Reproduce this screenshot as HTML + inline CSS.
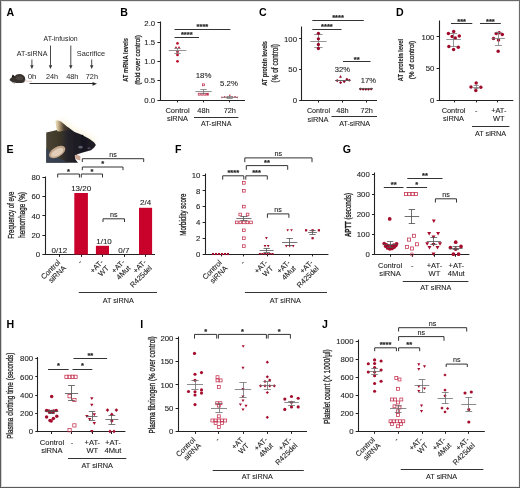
<!DOCTYPE html>
<html><head><meta charset="utf-8"><style>
html,body{margin:0;padding:0;background:#fff;}
body{width:520px;height:488px;overflow:hidden;}
svg{display:block;will-change:transform;font-family:"Liberation Sans",sans-serif;}
text{stroke:#1e1e1e;stroke-width:0.1px;}
</style></head><body>
<svg width="520" height="488" viewBox="0 0 520 488" fill="#1e1e1e">
<rect x="0" y="0" width="520" height="488" fill="#fff"/>
<g shape-rendering="crispEdges"><rect x="1" y="0" width="1" height="488" fill="#d4d4d4"/><rect x="0" y="1" width="520" height="1" fill="#e6e6e6"/><rect x="518" y="0" width="1" height="488" fill="#f2f2f2"/><rect x="0" y="486" width="520" height="1" fill="#ececec"/><rect x="0" y="0" width="1" height="488" fill="#5a5a5a"/><rect x="0" y="0" width="520" height="1" fill="#6a6a6a"/><rect x="519" y="0" width="1" height="488" fill="#6a6a6a"/><rect x="0" y="487" width="520" height="1" fill="#5a5a5a"/></g>
<text x="6.4" y="15.79" font-size="10.6" font-weight="bold" fill="#000" style="stroke:none">A</text>
<text x="60.6" y="41.26" font-size="7.2" text-anchor="middle" textLength="34" lengthAdjust="spacingAndGlyphs" style="stroke:none">AT-infusion</text>
<text x="32.1" y="55.56" font-size="7.2" text-anchor="middle" textLength="30.8" lengthAdjust="spacingAndGlyphs" style="stroke:none">AT-siRNA</text>
<text x="90.9" y="55.56" font-size="7.2" text-anchor="middle" textLength="28.3" lengthAdjust="spacingAndGlyphs" style="stroke:none">Sacrifice</text>
<line x1="31.9" y1="59.5" x2="31.9" y2="65.7" stroke="#333" stroke-width="0.9"/>
<path d="M30.2 65.2L33.6 65.2L31.9 69Z" fill="#333"/>
<line x1="50.5" y1="45.5" x2="50.5" y2="65.7" stroke="#333" stroke-width="0.9"/>
<path d="M48.8 65.2L52.2 65.2L50.5 69Z" fill="#333"/>
<line x1="70.8" y1="45.5" x2="70.8" y2="65.7" stroke="#333" stroke-width="0.9"/>
<path d="M69.1 65.2L72.5 65.2L70.8 69Z" fill="#333"/>
<line x1="91.7" y1="59.5" x2="91.7" y2="65.7" stroke="#333" stroke-width="0.9"/>
<path d="M90 65.2L93.4 65.2L91.7 69Z" fill="#333"/>
<text x="32.1" y="79.16" font-size="7.2" text-anchor="middle" textLength="8.7" lengthAdjust="spacingAndGlyphs" style="stroke:none">0h</text>
<text x="52" y="79.16" font-size="7.2" text-anchor="middle" textLength="12.2" lengthAdjust="spacingAndGlyphs" style="stroke:none">24h</text>
<text x="72.3" y="79.16" font-size="7.2" text-anchor="middle" textLength="12.3" lengthAdjust="spacingAndGlyphs" style="stroke:none">48h</text>
<text x="91.9" y="79.16" font-size="7.2" text-anchor="middle" textLength="12.2" lengthAdjust="spacingAndGlyphs" style="stroke:none">72h</text>
<line x1="29.6" y1="83.5" x2="93" y2="83.5" stroke="#2a2a2a" stroke-width="1"/>
<path d="M92.5 81.9L97 83.8L92.5 85.7Z" fill="#2a2a2a"/>
<g filter="url(#bls)"><path d="M9.4 80 Q10.5 78 12 77.2 L12.6 75 L14.4 76.2 Q16.5 74.2 19.5 74.1 Q23.5 74.3 25 77.5 Q26 80.5 24.2 82.2 Q21 83.4 17 83 Q13 82.6 11.2 81.4 Z" fill="#37312d"/><path d="M11.5 81.2 Q13 82.8 15.5 83.2 L14 83.6 Q12 83 11.5 81.2 Z" fill="#9a8a80"/><path d="M24.5 80.8 Q28 81.5 32 81.2" stroke="#cfb2a8" stroke-width="0.7" fill="none"/><ellipse cx="19.5" cy="78" rx="3.5" ry="2" fill="#5a524c" opacity="0.6"/><path d="M11.6 77.4 L12.8 74.4 L14.8 76.6 Z" fill="#1c1816"/></g>
<defs><filter id="bls" x="-20%" y="-20%" width="140%" height="140%"><feGaussianBlur stdDeviation="0.35"/></filter></defs>
<text x="120.2" y="15.79" font-size="10.6" font-weight="bold" fill="#000" style="stroke:none">B</text>
<line x1="160.5" y1="21.5" x2="160.5" y2="100.5" stroke="#222222" stroke-width="1.1"/>
<line x1="157.4" y1="22.5" x2="160" y2="22.5" stroke="#222222" stroke-width="1"/>
<text x="155.2" y="25.57" font-size="7.8" text-anchor="end">2.0</text>
<line x1="157.4" y1="42.5" x2="160" y2="42.5" stroke="#222222" stroke-width="1"/>
<text x="155.2" y="44.87" font-size="7.8" text-anchor="end">1.5</text>
<line x1="157.4" y1="61.5" x2="160" y2="61.5" stroke="#222222" stroke-width="1"/>
<text x="155.2" y="64.17" font-size="7.8" text-anchor="end">1.0</text>
<line x1="157.4" y1="80.5" x2="160" y2="80.5" stroke="#222222" stroke-width="1"/>
<text x="155.2" y="83.47" font-size="7.8" text-anchor="end">0.5</text>
<line x1="157.4" y1="100.5" x2="160" y2="100.5" stroke="#222222" stroke-width="1"/>
<text x="155.2" y="102.77" font-size="7.8" text-anchor="end">0.0</text>
<line x1="159.5" y1="100.5" x2="245" y2="100.5" stroke="#222222" stroke-width="1.1"/>
<line x1="177.5" y1="100" x2="177.5" y2="102.4" stroke="#222222" stroke-width="1"/>
<line x1="203.5" y1="100" x2="203.5" y2="102.4" stroke="#222222" stroke-width="1"/>
<line x1="229.5" y1="100" x2="229.5" y2="102.4" stroke="#222222" stroke-width="1"/>
<text x="127.9" y="59.85" font-size="7.8" text-anchor="middle" textLength="43.9" lengthAdjust="spacingAndGlyphs" transform="rotate(-90 127.9 59.85)" style="stroke-width:0.12px" font-weight="bold">AT mRNA levels</text>
<text x="140.4" y="60" font-size="7.8" text-anchor="middle" textLength="49.6" lengthAdjust="spacingAndGlyphs" transform="rotate(-90 140.4 60)" style="stroke-width:0.28px">(fold over control)</text>
<line x1="174.5" y1="29.5" x2="230.4" y2="29.5" stroke="#333333" stroke-width="1"/>
<text x="202.45" y="28.93" font-size="7.5" text-anchor="middle" font-weight="bold" style="stroke:#222;stroke-width:0.2px">****</text>
<line x1="174.5" y1="37.5" x2="199" y2="37.5" stroke="#333333" stroke-width="1"/>
<text x="186.75" y="37.32" font-size="7.5" text-anchor="middle" font-weight="bold" style="stroke:#222;stroke-width:0.2px">****</text>
<circle cx="177.5" cy="43.4" r="1.32" fill="#b8102e"/>
<path d="M174.74 48.31L177.26 48.31L176 46.1Z" fill="#b8102e"/>
<path d="M177.74 48.31L180.26 48.31L179 46.1Z" fill="#b8102e"/>
<circle cx="177.5" cy="51.8" r="1.4" fill="#b8102e"/>
<circle cx="177.5" cy="54.9" r="1.4" fill="#b8102e"/>
<circle cx="177.5" cy="61.3" r="1.4" fill="#b8102e"/>
<line x1="168.7" y1="50.5" x2="186.3" y2="50.5" stroke="#7a7a7a" stroke-width="0.8"/>
<line x1="177.5" y1="48.5" x2="177.5" y2="53.1" stroke="#7a7a7a" stroke-width="0.8"/>
<line x1="174.3" y1="48.5" x2="180.7" y2="48.5" stroke="#7a7a7a" stroke-width="0.8"/>
<line x1="174.3" y1="53.5" x2="180.7" y2="53.5" stroke="#7a7a7a" stroke-width="0.8"/>
<rect x="202.57" y="83.87" width="1.86" height="1.86" fill="#fff" fill-opacity="0" stroke="#c4304e" stroke-width="0.75"/>
<rect x="198.24" y="93.24" width="1.92" height="1.92" fill="#fff" fill-opacity="0" stroke="#c4304e" stroke-width="0.75"/>
<rect x="201.04" y="93.24" width="1.92" height="1.92" fill="#fff" fill-opacity="0" stroke="#c4304e" stroke-width="0.75"/>
<rect x="203.84" y="93.24" width="1.92" height="1.92" fill="#fff" fill-opacity="0" stroke="#c4304e" stroke-width="0.75"/>
<rect x="206.64" y="93.24" width="1.92" height="1.92" fill="#fff" fill-opacity="0" stroke="#c4304e" stroke-width="0.75"/>
<line x1="195.3" y1="91.5" x2="211.7" y2="91.5" stroke="#7a7a7a" stroke-width="0.8"/>
<line x1="203.5" y1="89.2" x2="203.5" y2="93" stroke="#7a7a7a" stroke-width="0.8"/>
<line x1="200.3" y1="89.5" x2="206.7" y2="89.5" stroke="#7a7a7a" stroke-width="0.8"/>
<line x1="200.3" y1="93.5" x2="206.7" y2="93.5" stroke="#7a7a7a" stroke-width="0.8"/>
<text x="203.6" y="78.27" font-size="7.8" text-anchor="middle">18%</text>
<path d="M221.01 96.81L222.99 96.81L222 98.54Z" fill="#b8102e"/>
<path d="M223.61 96.21L225.59 96.21L224.6 97.94Z" fill="#b8102e"/>
<path d="M226.21 96.81L228.19 96.81L227.2 98.54Z" fill="#b8102e"/>
<path d="M228.81 94.81L230.79 94.81L229.8 96.54Z" fill="#b8102e"/>
<path d="M231.41 96.61L233.39 96.61L232.4 98.34Z" fill="#b8102e"/>
<path d="M234.01 96.21L235.99 96.21L235 97.94Z" fill="#b8102e"/>
<path d="M236.21 96.81L238.19 96.81L237.2 98.54Z" fill="#b8102e"/>
<line x1="221.6" y1="97.5" x2="237.6" y2="97.5" stroke="#7a7a7a" stroke-width="0.8"/>
<line x1="229.5" y1="96.2" x2="229.5" y2="98.2" stroke="#7a7a7a" stroke-width="0.8"/>
<line x1="226.6" y1="96.5" x2="232.6" y2="96.5" stroke="#7a7a7a" stroke-width="0.8"/>
<line x1="226.6" y1="98.5" x2="232.6" y2="98.5" stroke="#7a7a7a" stroke-width="0.8"/>
<text x="229" y="86.37" font-size="7.8" text-anchor="middle">5.2%</text>
<text x="177.5" y="112.93" font-size="7.4" text-anchor="middle" textLength="24.2" lengthAdjust="spacingAndGlyphs">Control</text>
<text x="177.5" y="121.23" font-size="7.4" text-anchor="middle">siRNA</text>
<text x="203.5" y="112.93" font-size="7.4" text-anchor="middle">48h</text>
<text x="229.8" y="112.93" font-size="7.4" text-anchor="middle">72h</text>
<line x1="194" y1="117.5" x2="238.4" y2="117.5" stroke="#333333" stroke-width="1"/>
<text x="216.2" y="126.46" font-size="7.2" text-anchor="middle" textLength="30.5" lengthAdjust="spacingAndGlyphs">AT-siRNA</text>
<text x="259" y="15.79" font-size="10.6" font-weight="bold" fill="#000" style="stroke:none">C</text>
<line x1="301.5" y1="26.5" x2="301.5" y2="100.7" stroke="#222222" stroke-width="1.1"/>
<line x1="299.2" y1="38.5" x2="301.8" y2="38.5" stroke="#222222" stroke-width="1"/>
<text x="297" y="41.67" font-size="7.8" text-anchor="end">100</text>
<line x1="299.2" y1="69.5" x2="301.8" y2="69.5" stroke="#222222" stroke-width="1"/>
<text x="297" y="72.32" font-size="7.8" text-anchor="end">50</text>
<line x1="299.2" y1="100.5" x2="301.8" y2="100.5" stroke="#222222" stroke-width="1"/>
<text x="297" y="102.97" font-size="7.8" text-anchor="end">0</text>
<line x1="301.3" y1="100.5" x2="377" y2="100.5" stroke="#222222" stroke-width="1.1"/>
<line x1="318.5" y1="100.2" x2="318.5" y2="102.6" stroke="#222222" stroke-width="1"/>
<line x1="342.5" y1="100.2" x2="342.5" y2="102.6" stroke="#222222" stroke-width="1"/>
<line x1="366.5" y1="100.2" x2="366.5" y2="102.6" stroke="#222222" stroke-width="1"/>
<text x="266.6" y="63.4" font-size="7.8" text-anchor="middle" textLength="44.8" lengthAdjust="spacingAndGlyphs" transform="rotate(-90 266.6 63.4)" style="stroke-width:0.12px" font-weight="bold">AT protein levels</text>
<text x="277.5" y="63.25" font-size="8.2" text-anchor="middle" textLength="38.5" lengthAdjust="spacingAndGlyphs" transform="rotate(-90 277.5 63.25)" style="stroke-width:0.28px">(% of control)</text>
<line x1="312.3" y1="20.5" x2="363.8" y2="20.5" stroke="#333333" stroke-width="1"/>
<text x="338.05" y="20.23" font-size="7.5" text-anchor="middle" font-weight="bold" style="stroke:#222;stroke-width:0.2px">****</text>
<line x1="312.3" y1="29.5" x2="341.5" y2="29.5" stroke="#333333" stroke-width="1"/>
<text x="326.9" y="28.73" font-size="7.5" text-anchor="middle" font-weight="bold" style="stroke:#222;stroke-width:0.2px">****</text>
<line x1="343" y1="61.5" x2="370.5" y2="61.5" stroke="#333333" stroke-width="1"/>
<text x="356.75" y="61.52" font-size="7.5" text-anchor="middle" font-weight="bold" style="stroke:#222;stroke-width:0.2px">**</text>
<line x1="310.2" y1="41.5" x2="326.6" y2="41.5" stroke="#7a7a7a" stroke-width="0.8"/>
<line x1="318.5" y1="34.5" x2="318.5" y2="47.5" stroke="#7a7a7a" stroke-width="0.8"/>
<line x1="314.2" y1="34.5" x2="322.6" y2="34.5" stroke="#7a7a7a" stroke-width="0.8"/>
<line x1="314.2" y1="47.5" x2="322.6" y2="47.5" stroke="#7a7a7a" stroke-width="0.8"/>
<circle cx="318.4" cy="33.3" r="1.65" fill="#960c2c"/>
<circle cx="318.4" cy="38.8" r="1.65" fill="#960c2c"/>
<circle cx="318.4" cy="44.5" r="1.65" fill="#960c2c"/>
<circle cx="318.4" cy="48.5" r="1.65" fill="#960c2c"/>
<path d="M339.02 77.68L341.98 77.68L340.5 75.1Z" fill="#940a2a"/>
<path d="M337.2 79.04L338.76 80.6L337.2 82.16L335.64 80.6Z" fill="#940a2a"/>
<path d="M346.9 77.64L348.46 79.2L346.9 80.76L345.34 79.2Z" fill="#940a2a"/>
<path d="M349.3 78.74L350.86 80.3L349.3 81.86L347.74 80.3Z" fill="#940a2a"/>
<path d="M340.6 81.04L342.16 82.6L340.6 84.16L339.04 82.6Z" fill="#940a2a"/>
<path d="M344.2 80.04L345.76 81.6L344.2 83.16L342.64 81.6Z" fill="#940a2a"/>
<line x1="335" y1="80.5" x2="350" y2="80.5" stroke="#555" stroke-width="0.9"/>
<text x="342.3" y="71.5" font-size="7.6" text-anchor="middle">32%</text>
<path d="M360.4 87.42L361.88 88.9L360.4 90.38L358.92 88.9Z" fill="#7a0a22"/>
<path d="M363.1 87.72L364.58 89.2L363.1 90.68L361.62 89.2Z" fill="#7a0a22"/>
<path d="M365.8 87.72L367.28 89.2L365.8 90.68L364.32 89.2Z" fill="#7a0a22"/>
<path d="M368.5 87.72L369.98 89.2L368.5 90.68L367.02 89.2Z" fill="#7a0a22"/>
<path d="M371.2 87.42L372.68 88.9L371.2 90.38L369.72 88.9Z" fill="#7a0a22"/>
<line x1="359" y1="88.5" x2="373" y2="88.5" stroke="#555" stroke-width="0.8"/>
<text x="368.3" y="82.5" font-size="7.6" text-anchor="middle">17%</text>
<text x="318.5" y="112.63" font-size="7.4" text-anchor="middle" textLength="23.1" lengthAdjust="spacingAndGlyphs">Control</text>
<text x="318.1" y="121.83" font-size="7.4" text-anchor="middle">siRNA</text>
<text x="342.5" y="112.63" font-size="7.4" text-anchor="middle">48h</text>
<text x="366.7" y="112.63" font-size="7.4" text-anchor="middle">72h</text>
<line x1="331.5" y1="116.5" x2="377" y2="116.5" stroke="#333333" stroke-width="1"/>
<text x="354.6" y="126.36" font-size="7.2" text-anchor="middle" textLength="30.8" lengthAdjust="spacingAndGlyphs">AT-siRNA</text>
<text x="396" y="15.79" font-size="10.6" font-weight="bold" fill="#000" style="stroke:none">D</text>
<line x1="439.5" y1="20.5" x2="439.5" y2="100.5" stroke="#222222" stroke-width="1.1"/>
<line x1="436.6" y1="36.5" x2="439.2" y2="36.5" stroke="#222222" stroke-width="1"/>
<text x="434.4" y="39.57" font-size="7.8" text-anchor="end">100</text>
<line x1="436.6" y1="68.5" x2="439.2" y2="68.5" stroke="#222222" stroke-width="1"/>
<text x="434.4" y="71.17" font-size="7.8" text-anchor="end">50</text>
<line x1="436.6" y1="100.5" x2="439.2" y2="100.5" stroke="#222222" stroke-width="1"/>
<text x="434.4" y="102.77" font-size="7.8" text-anchor="end">0</text>
<line x1="438.7" y1="100.5" x2="513.3" y2="100.5" stroke="#222222" stroke-width="1.1"/>
<line x1="454.5" y1="100" x2="454.5" y2="102.4" stroke="#222222" stroke-width="1"/>
<line x1="476.5" y1="100" x2="476.5" y2="102.4" stroke="#222222" stroke-width="1"/>
<line x1="497.5" y1="100" x2="497.5" y2="102.4" stroke="#222222" stroke-width="1"/>
<text x="402.6" y="60.15" font-size="7.6" text-anchor="middle" textLength="42.3" lengthAdjust="spacingAndGlyphs" transform="rotate(-90 402.6 60.15)" style="stroke-width:0.12px" font-weight="bold">AT protein level</text>
<text x="414.4" y="60.05" font-size="7.2" text-anchor="middle" textLength="38.5" lengthAdjust="spacingAndGlyphs" transform="rotate(-90 414.4 60.05)" style="stroke-width:0.28px">(% of control)</text>
<line x1="451" y1="23.5" x2="472.3" y2="23.5" stroke="#333333" stroke-width="1"/>
<text x="461.65" y="23.53" font-size="7.5" text-anchor="middle" font-weight="bold" style="stroke:#222;stroke-width:0.2px">***</text>
<line x1="480" y1="23.5" x2="500.8" y2="23.5" stroke="#333333" stroke-width="1"/>
<text x="490.4" y="23.53" font-size="7.5" text-anchor="middle" font-weight="bold" style="stroke:#222;stroke-width:0.2px">***</text>
<circle cx="448.4" cy="33.4" r="1.73" fill="#a00a2a"/>
<circle cx="453.7" cy="31.4" r="1.73" fill="#a00a2a"/>
<circle cx="452.1" cy="36.4" r="1.73" fill="#a00a2a"/>
<circle cx="455.3" cy="38.1" r="1.73" fill="#a00a2a"/>
<circle cx="459.3" cy="36.1" r="1.73" fill="#a00a2a"/>
<circle cx="448.9" cy="46.4" r="1.73" fill="#a00a2a"/>
<circle cx="458.3" cy="47.2" r="1.73" fill="#a00a2a"/>
<circle cx="453.6" cy="49.6" r="1.73" fill="#a00a2a"/>
<line x1="446.3" y1="39.5" x2="460.9" y2="39.5" stroke="#7a7a7a" stroke-width="0.8"/>
<line x1="453.5" y1="33" x2="453.5" y2="46.8" stroke="#7a7a7a" stroke-width="0.8"/>
<line x1="450.1" y1="33.5" x2="457.1" y2="33.5" stroke="#7a7a7a" stroke-width="0.8"/>
<line x1="450.1" y1="46.5" x2="457.1" y2="46.5" stroke="#7a7a7a" stroke-width="0.8"/>
<circle cx="496.2" cy="33.4" r="1.73" fill="#a00a2a"/>
<circle cx="499.2" cy="32.8" r="1.73" fill="#a00a2a"/>
<circle cx="502.3" cy="34.6" r="1.73" fill="#a00a2a"/>
<circle cx="493.5" cy="38.5" r="1.73" fill="#a00a2a"/>
<circle cx="498.5" cy="40" r="1.73" fill="#a00a2a"/>
<circle cx="498.2" cy="51.2" r="1.73" fill="#a00a2a"/>
<line x1="491.9" y1="38.5" x2="504.9" y2="38.5" stroke="#7a7a7a" stroke-width="0.8"/>
<line x1="498.5" y1="32" x2="498.5" y2="45.4" stroke="#7a7a7a" stroke-width="0.8"/>
<line x1="494.9" y1="32.5" x2="501.9" y2="32.5" stroke="#7a7a7a" stroke-width="0.8"/>
<line x1="494.9" y1="45.5" x2="501.9" y2="45.5" stroke="#7a7a7a" stroke-width="0.8"/>
<circle cx="471" cy="87" r="1.73" fill="#a00a2a"/>
<circle cx="476.2" cy="83" r="1.73" fill="#a00a2a"/>
<circle cx="480.8" cy="87.3" r="1.73" fill="#a00a2a"/>
<circle cx="475.8" cy="90.4" r="1.73" fill="#a00a2a"/>
<line x1="472.2" y1="87.5" x2="480.2" y2="87.5" stroke="#7a7a7a" stroke-width="0.8"/>
<line x1="476.5" y1="85.5" x2="476.5" y2="88.8" stroke="#7a7a7a" stroke-width="0.8"/>
<line x1="473.7" y1="85.5" x2="478.7" y2="85.5" stroke="#7a7a7a" stroke-width="0.8"/>
<line x1="473.7" y1="88.5" x2="478.7" y2="88.5" stroke="#7a7a7a" stroke-width="0.8"/>
<text x="453.6" y="113.03" font-size="7.4" text-anchor="middle">Control</text>
<text x="453.6" y="121.33" font-size="7.4" text-anchor="middle">siRNA</text>
<text x="476.2" y="113.03" font-size="7.4" text-anchor="middle">-</text>
<text x="498.8" y="113.03" font-size="7.4" text-anchor="middle">+AT-</text>
<text x="498.8" y="121.33" font-size="7.4" text-anchor="middle">WT</text>
<line x1="472" y1="126.5" x2="509.4" y2="126.5" stroke="#333333" stroke-width="1"/>
<text x="490.5" y="135.63" font-size="7.4" text-anchor="middle" textLength="31.1" lengthAdjust="spacingAndGlyphs">AT siRNA</text>
<text x="6.4" y="153.29" font-size="10.6" font-weight="bold" fill="#000" style="stroke:none">E</text>
<defs>
<linearGradient id="mb" x1="46" y1="0" x2="96" y2="0" gradientUnits="userSpaceOnUse">
<stop offset="0" stop-color="#4a4434"/><stop offset="0.25" stop-color="#3e3828"/><stop offset="0.45" stop-color="#25232a"/><stop offset="0.75" stop-color="#17171f"/><stop offset="1" stop-color="#231f27"/>
</linearGradient>
<linearGradient id="ear" x1="55" y1="0" x2="70" y2="0" gradientUnits="userSpaceOnUse">
<stop offset="0" stop-color="#f0e4c6"/><stop offset="0.18" stop-color="#d6c29c"/><stop offset="0.38" stop-color="#968060"/><stop offset="0.6" stop-color="#4a3e32"/><stop offset="1" stop-color="#2a2420"/>
</linearGradient>
<filter id="bl" x="-10%" y="-10%" width="120%" height="120%"><feGaussianBlur stdDeviation="0.6"/></filter>
<filter id="bl2" x="-50%" y="-50%" width="200%" height="200%"><feGaussianBlur stdDeviation="2.5"/></filter>
</defs>
<path d="M60 121 L66 124.5 L71 129.3 L75 131.5 L81.5 134 L86 136.2 L90 138.8 L95 142.5" stroke="#f6ecc8" stroke-width="4" fill="none" filter="url(#bl2)" opacity="0.75"/>
<g filter="url(#bl)">
<path d="M46.2 132.4 L52 131.2 L56 130.2 L62 128.5 L68 127.3 L74.6 131.9 L81.1 134.5 L85 136.5 L89.6 139.1 L94.2 142.4 L95.9 145 L94.2 147.6 L91 150.2 L86.4 151.5 L81.1 152.9 L77.5 154.2 L74.8 156 L75.5 159.5 L78 162.8 L46.2 162.8 Z" fill="url(#mb)"/>
<path d="M55.4 121 L57.6 120.3 L61 121.6 L65.5 125.2 L70.4 129.6 L66 130.4 L60 131.4 L57.2 131.2 L56.2 127 Z" fill="url(#ear)"/>
<path d="M46.2 148 Q52 155 62 159.5 L68 162.8 L46.2 162.8 Z" fill="#34425a" opacity="0.8"/>
<ellipse cx="57.2" cy="152.0" rx="9.0" ry="4.9" transform="rotate(-30 57.2 152.0)" fill="#bfa48c"/>
<ellipse cx="57.2" cy="152.4" rx="6.8" ry="3.2" transform="rotate(-30 57.2 152.4)" fill="#e2cdb8"/>
<ellipse cx="80.5" cy="147.2" rx="2.2" ry="1.4" fill="#5c5c6c"/>
<ellipse cx="89" cy="148.3" rx="1.6" ry="1.0" fill="#4c4a58"/>
<circle cx="82.4" cy="135.8" r="1" fill="#0c0c10"/>
<path d="M74.8 155 Q78 154.2 80.5 156.5 L80.2 160.2 Q77.5 160.5 75.5 158.8 Z" fill="#caa696"/>
</g>
<line x1="45.5" y1="176.5" x2="45.5" y2="255" stroke="#222222" stroke-width="1.1"/>
<line x1="42.4" y1="177.5" x2="45" y2="177.5" stroke="#222222" stroke-width="1"/>
<text x="40.2" y="179.87" font-size="7.8" text-anchor="end">80</text>
<line x1="42.4" y1="196.5" x2="45" y2="196.5" stroke="#222222" stroke-width="1"/>
<text x="40.2" y="199.22" font-size="7.8" text-anchor="end">60</text>
<line x1="42.4" y1="215.5" x2="45" y2="215.5" stroke="#222222" stroke-width="1"/>
<text x="40.2" y="218.57" font-size="7.8" text-anchor="end">40</text>
<line x1="42.4" y1="235.5" x2="45" y2="235.5" stroke="#222222" stroke-width="1"/>
<text x="40.2" y="237.92" font-size="7.8" text-anchor="end">20</text>
<line x1="42.4" y1="254.5" x2="45" y2="254.5" stroke="#222222" stroke-width="1"/>
<text x="40.2" y="257.27" font-size="7.8" text-anchor="end">0</text>
<line x1="44.5" y1="254.5" x2="155" y2="254.5" stroke="#222222" stroke-width="1.1"/>
<line x1="59.5" y1="254.5" x2="59.5" y2="256.9" stroke="#222222" stroke-width="1"/>
<line x1="81.5" y1="254.5" x2="81.5" y2="256.9" stroke="#222222" stroke-width="1"/>
<line x1="102.5" y1="254.5" x2="102.5" y2="256.9" stroke="#222222" stroke-width="1"/>
<line x1="124.5" y1="254.5" x2="124.5" y2="256.9" stroke="#222222" stroke-width="1"/>
<line x1="145.5" y1="254.5" x2="145.5" y2="256.9" stroke="#222222" stroke-width="1"/>
<text x="13.7" y="215.15" font-size="8.4" text-anchor="middle" textLength="47.1" lengthAdjust="spacingAndGlyphs" transform="rotate(-90 13.7 215.15)" style="stroke-width:0.28px">Frequency of eye</text>
<text x="24.8" y="214.95" font-size="8.4" text-anchor="middle" textLength="45.7" lengthAdjust="spacingAndGlyphs" transform="rotate(-90 24.8 214.95)" style="stroke-width:0.28px">hemorrhage (%)</text>
<rect x="74.3" y="193.0" width="13.6" height="61.5" fill="#c9022b"/>
<rect x="95.9" y="245.8" width="13.1" height="8.7" fill="#c9022b"/>
<rect x="139.0" y="207.8" width="13.1" height="46.7" fill="#c9022b"/>
<text x="59.4" y="252.84" font-size="8" text-anchor="middle">0/12</text>
<text x="81.2" y="191.34" font-size="8" text-anchor="middle">13/20</text>
<text x="104" y="244.34" font-size="8" text-anchor="middle">1/10</text>
<text x="123.8" y="252.84" font-size="8" text-anchor="middle">0/7</text>
<text x="145.6" y="205.24" font-size="8" text-anchor="middle">2/4</text>
<path d="M57.7 177.5V174H79.4V177.5" stroke="#333333" stroke-width="1" fill="none"/>
<text x="68.55" y="173.53" font-size="7.5" text-anchor="middle" font-weight="bold" style="stroke:#222;stroke-width:0.2px">*</text>
<path d="M81.3 177.5V174H102.5V177.5" stroke="#333333" stroke-width="1" fill="none"/>
<text x="91.9" y="173.53" font-size="7.5" text-anchor="middle" font-weight="bold" style="stroke:#222;stroke-width:0.2px">*</text>
<path d="M82.3 170.2V167H123V170.2" stroke="#333333" stroke-width="1" fill="none"/>
<text x="102.65" y="166.23" font-size="7.5" text-anchor="middle" font-weight="bold" style="stroke:#222;stroke-width:0.2px">*</text>
<path d="M82.3 162V158.7H143.7V162" stroke="#333333" stroke-width="1" fill="none"/>
<text x="113" y="156.76" font-size="7.2" text-anchor="middle">ns</text>
<path d="M103 222V218.8H124.5V222" stroke="#333333" stroke-width="1" fill="none"/>
<text x="113.75" y="217.06" font-size="7.2" text-anchor="middle">ns</text>
<g transform="translate(58.9 261) rotate(-45)">
<text x="0" y="2.63" font-size="7.4" text-anchor="end">Control</text>
<text x="0" y="10.63" font-size="7.4" text-anchor="end">siRNA</text>
</g>
<g transform="translate(80.4 261) rotate(-45)">
<text x="0" y="2.63" font-size="7.4" text-anchor="end">-</text>
</g>
<g transform="translate(101.9 261) rotate(-45)">
<text x="0" y="2.63" font-size="7.4" text-anchor="end">+AT-</text>
<text x="0" y="10.63" font-size="7.4" text-anchor="end">WT</text>
</g>
<g transform="translate(123.4 261) rotate(-45)">
<text x="0" y="2.63" font-size="7.4" text-anchor="end">+AT-</text>
<text x="0" y="10.63" font-size="7.4" text-anchor="end">4Mut</text>
</g>
<g transform="translate(144.9 261) rotate(-45)">
<text x="0" y="2.63" font-size="7.4" text-anchor="end">+AT-</text>
<text x="0" y="10.63" font-size="7.4" text-anchor="end">R425del</text>
</g>
<line x1="78.8" y1="292.5" x2="157" y2="292.5" stroke="#333333" stroke-width="1"/>
<text x="118.2" y="302.83" font-size="7.4" text-anchor="middle" textLength="31.1" lengthAdjust="spacingAndGlyphs">AT siRNA</text>
<text x="175" y="153.29" font-size="10.6" font-weight="bold" fill="#000" style="stroke:none">F</text>
<line x1="205.5" y1="173.5" x2="205.5" y2="254.5" stroke="#222222" stroke-width="1.1"/>
<line x1="202.6" y1="175.5" x2="205.2" y2="175.5" stroke="#222222" stroke-width="1"/>
<text x="200.4" y="177.77" font-size="7.8" text-anchor="end">10</text>
<line x1="202.6" y1="190.5" x2="205.2" y2="190.5" stroke="#222222" stroke-width="1"/>
<text x="200.4" y="193.57" font-size="7.8" text-anchor="end">8</text>
<line x1="202.6" y1="206.5" x2="205.2" y2="206.5" stroke="#222222" stroke-width="1"/>
<text x="200.4" y="209.37" font-size="7.8" text-anchor="end">6</text>
<line x1="202.6" y1="222.5" x2="205.2" y2="222.5" stroke="#222222" stroke-width="1"/>
<text x="200.4" y="225.17" font-size="7.8" text-anchor="end">4</text>
<line x1="202.6" y1="238.5" x2="205.2" y2="238.5" stroke="#222222" stroke-width="1"/>
<text x="200.4" y="240.97" font-size="7.8" text-anchor="end">2</text>
<line x1="202.6" y1="254.5" x2="205.2" y2="254.5" stroke="#222222" stroke-width="1"/>
<text x="200.4" y="256.77" font-size="7.8" text-anchor="end">0</text>
<line x1="204.7" y1="254.5" x2="328.4" y2="254.5" stroke="#222222" stroke-width="1.1"/>
<line x1="221.5" y1="254" x2="221.5" y2="256.4" stroke="#222222" stroke-width="1"/>
<line x1="243.5" y1="254" x2="243.5" y2="256.4" stroke="#222222" stroke-width="1"/>
<line x1="267.5" y1="254" x2="267.5" y2="256.4" stroke="#222222" stroke-width="1"/>
<line x1="289.5" y1="254" x2="289.5" y2="256.4" stroke="#222222" stroke-width="1"/>
<line x1="312.5" y1="254" x2="312.5" y2="256.4" stroke="#222222" stroke-width="1"/>
<text x="185.6" y="214.65" font-size="8.4" text-anchor="middle" textLength="42.1" lengthAdjust="spacingAndGlyphs" transform="rotate(-90 185.6 214.65)" style="stroke-width:0.28px">Morbidity score</text>
<path d="M222.7 179.6V175.8H243.8V179.6" stroke="#333333" stroke-width="1" fill="none"/>
<text x="233.25" y="175.03" font-size="7.5" text-anchor="middle" font-weight="bold" style="stroke:#222;stroke-width:0.2px">****</text>
<path d="M245.8 179.6V175.8H267.3V179.6" stroke="#333333" stroke-width="1" fill="none"/>
<text x="256.55" y="175.03" font-size="7.5" text-anchor="middle" font-weight="bold" style="stroke:#222;stroke-width:0.2px">***</text>
<path d="M246.3 169.8V165.6H287.7V169.8" stroke="#333333" stroke-width="1" fill="none"/>
<text x="267" y="165.43" font-size="7.5" text-anchor="middle" font-weight="bold" style="stroke:#222;stroke-width:0.2px">**</text>
<path d="M244.8 162.2V157.9H312V162.2" stroke="#333333" stroke-width="1" fill="none"/>
<text x="278.4" y="156.26" font-size="7.2" text-anchor="middle">ns</text>
<path d="M267.4 217.8V213.9H288.9V217.8" stroke="#333333" stroke-width="1" fill="none"/>
<text x="278.15" y="212.26" font-size="7.2" text-anchor="middle">ns</text>
<rect x="211.95" y="252.95" width="2.1" height="2.1" fill="#a50d2d"/>
<rect x="214.95" y="252.95" width="2.1" height="2.1" fill="#a50d2d"/>
<rect x="217.95" y="252.95" width="2.1" height="2.1" fill="#a50d2d"/>
<rect x="220.95" y="252.95" width="2.1" height="2.1" fill="#a50d2d"/>
<rect x="223.95" y="252.95" width="2.1" height="2.1" fill="#a50d2d"/>
<rect x="226.95" y="252.95" width="2.1" height="2.1" fill="#a50d2d"/>
<rect x="242.58" y="181.58" width="2.63" height="2.63" fill="#fff" fill-opacity="0" stroke="#c4304e" stroke-width="0.75"/>
<rect x="242.58" y="189.48" width="2.63" height="2.63" fill="#fff" fill-opacity="0" stroke="#c4304e" stroke-width="0.75"/>
<rect x="242.58" y="205.28" width="2.63" height="2.63" fill="#fff" fill-opacity="0" stroke="#c4304e" stroke-width="0.75"/>
<rect x="238.88" y="213.18" width="2.63" height="2.63" fill="#fff" fill-opacity="0" stroke="#c4304e" stroke-width="0.75"/>
<rect x="246.28" y="213.18" width="2.63" height="2.63" fill="#fff" fill-opacity="0" stroke="#c4304e" stroke-width="0.75"/>
<rect x="235.48" y="221.08" width="2.63" height="2.63" fill="#fff" fill-opacity="0" stroke="#c4304e" stroke-width="0.75"/>
<rect x="238.98" y="221.08" width="2.63" height="2.63" fill="#fff" fill-opacity="0" stroke="#c4304e" stroke-width="0.75"/>
<rect x="242.58" y="221.08" width="2.63" height="2.63" fill="#fff" fill-opacity="0" stroke="#c4304e" stroke-width="0.75"/>
<rect x="246.08" y="221.08" width="2.63" height="2.63" fill="#fff" fill-opacity="0" stroke="#c4304e" stroke-width="0.75"/>
<rect x="249.68" y="221.08" width="2.63" height="2.63" fill="#fff" fill-opacity="0" stroke="#c4304e" stroke-width="0.75"/>
<rect x="242.58" y="228.98" width="2.63" height="2.63" fill="#fff" fill-opacity="0" stroke="#c4304e" stroke-width="0.75"/>
<rect x="242.58" y="236.88" width="2.63" height="2.63" fill="#fff" fill-opacity="0" stroke="#c4304e" stroke-width="0.75"/>
<rect x="242.58" y="244.78" width="2.63" height="2.63" fill="#fff" fill-opacity="0" stroke="#c4304e" stroke-width="0.75"/>
<line x1="236.3" y1="218.5" x2="251.5" y2="218.5" stroke="#555555" stroke-width="0.8"/>
<line x1="243.5" y1="216.08" x2="243.5" y2="220.82" stroke="#555555" stroke-width="0.8"/>
<line x1="240.3" y1="216.5" x2="247.5" y2="216.5" stroke="#555555" stroke-width="0.8"/>
<line x1="240.3" y1="220.5" x2="247.5" y2="220.5" stroke="#555555" stroke-width="0.8"/>
<path d="M265.05 237.12L267.75 237.12L266.4 239.48Z" fill="#a50d2d"/>
<path d="M263.65 245.02L266.35 245.02L265 247.38Z" fill="#a50d2d"/>
<path d="M266.85 245.02L269.55 245.02L268.2 247.38Z" fill="#a50d2d"/>
<path d="M258.65 252.92L261.35 252.92L260 255.28Z" fill="#a50d2d"/>
<path d="M261.15 252.92L263.85 252.92L262.5 255.28Z" fill="#a50d2d"/>
<path d="M263.65 252.92L266.35 252.92L265 255.28Z" fill="#a50d2d"/>
<path d="M266.15 252.92L268.85 252.92L267.5 255.28Z" fill="#a50d2d"/>
<path d="M268.65 252.92L271.35 252.92L270 255.28Z" fill="#a50d2d"/>
<path d="M271.15 252.92L273.85 252.92L272.5 255.28Z" fill="#a50d2d"/>
<line x1="259.7" y1="250.5" x2="273.7" y2="250.5" stroke="#555555" stroke-width="0.8"/>
<line x1="266.5" y1="248.07" x2="266.5" y2="252.03" stroke="#555555" stroke-width="0.8"/>
<line x1="263.5" y1="248.5" x2="269.9" y2="248.5" stroke="#555555" stroke-width="0.8"/>
<line x1="263.5" y1="252.5" x2="269.9" y2="252.5" stroke="#555555" stroke-width="0.8"/>
<path d="M286.35 229.22L289.05 229.22L287.7 231.58Z" fill="#a50d2d"/>
<path d="M290.15 229.22L292.85 229.22L291.5 231.58Z" fill="#a50d2d"/>
<path d="M284.95 245.02L287.65 245.02L286.3 247.38Z" fill="#a50d2d"/>
<path d="M288.35 245.02L291.05 245.02L289.7 247.38Z" fill="#a50d2d"/>
<path d="M291.85 245.02L294.55 245.02L293.2 247.38Z" fill="#a50d2d"/>
<line x1="282" y1="242.5" x2="297.4" y2="242.5" stroke="#555555" stroke-width="0.8"/>
<line x1="289.5" y1="238.2" x2="289.5" y2="245.71" stroke="#555555" stroke-width="0.8"/>
<line x1="286.5" y1="238.5" x2="292.9" y2="238.5" stroke="#555555" stroke-width="0.8"/>
<line x1="286.5" y1="245.5" x2="292.9" y2="245.5" stroke="#555555" stroke-width="0.8"/>
<rect x="304.98" y="229.18" width="2.25" height="2.25" fill="#a50d2d"/>
<rect x="311.48" y="229.18" width="2.25" height="2.25" fill="#a50d2d"/>
<rect x="317.77" y="229.18" width="2.25" height="2.25" fill="#a50d2d"/>
<rect x="311.48" y="237.07" width="2.25" height="2.25" fill="#a50d2d"/>
<line x1="308.1" y1="232.5" x2="316.9" y2="232.5" stroke="#555555" stroke-width="0.8"/>
<line x1="312.5" y1="230.3" x2="312.5" y2="234.25" stroke="#555555" stroke-width="0.8"/>
<line x1="309.3" y1="230.5" x2="315.7" y2="230.5" stroke="#555555" stroke-width="0.8"/>
<line x1="309.3" y1="234.5" x2="315.7" y2="234.5" stroke="#555555" stroke-width="0.8"/>
<g transform="translate(220.4 261.3) rotate(-45)">
<text x="0" y="2.63" font-size="7.4" text-anchor="end">Control</text>
<text x="0" y="10.63" font-size="7.4" text-anchor="end">siRNA</text>
</g>
<g transform="translate(243.1 261.3) rotate(-45)">
<text x="0" y="2.63" font-size="7.4" text-anchor="end">-</text>
</g>
<g transform="translate(266.2 261.3) rotate(-45)">
<text x="0" y="2.63" font-size="7.4" text-anchor="end">+AT-</text>
<text x="0" y="10.63" font-size="7.4" text-anchor="end">WT</text>
</g>
<g transform="translate(288.8 261.3) rotate(-45)">
<text x="0" y="2.63" font-size="7.4" text-anchor="end">+AT-</text>
<text x="0" y="10.63" font-size="7.4" text-anchor="end">4Mut</text>
</g>
<g transform="translate(311.7 261.3) rotate(-45)">
<text x="0" y="2.63" font-size="7.4" text-anchor="end">+AT-</text>
<text x="0" y="10.63" font-size="7.4" text-anchor="end">R425del</text>
</g>
<line x1="244.9" y1="292.5" x2="327" y2="292.5" stroke="#333333" stroke-width="1"/>
<text x="285.3" y="302.53" font-size="7.4" text-anchor="middle" textLength="31.1" lengthAdjust="spacingAndGlyphs">AT siRNA</text>
<text x="342.7" y="153.29" font-size="10.6" font-weight="bold" fill="#000" style="stroke:none">G</text>
<line x1="374.5" y1="172.5" x2="374.5" y2="254.9" stroke="#222222" stroke-width="1.1"/>
<line x1="372" y1="174.5" x2="374.6" y2="174.5" stroke="#222222" stroke-width="1"/>
<text x="369.8" y="176.77" font-size="7.8" text-anchor="end">400</text>
<line x1="372" y1="194.5" x2="374.6" y2="194.5" stroke="#222222" stroke-width="1"/>
<text x="369.8" y="196.87" font-size="7.8" text-anchor="end">300</text>
<line x1="372" y1="214.5" x2="374.6" y2="214.5" stroke="#222222" stroke-width="1"/>
<text x="369.8" y="216.97" font-size="7.8" text-anchor="end">200</text>
<line x1="372" y1="234.5" x2="374.6" y2="234.5" stroke="#222222" stroke-width="1"/>
<text x="369.8" y="237.07" font-size="7.8" text-anchor="end">100</text>
<line x1="372" y1="254.5" x2="374.6" y2="254.5" stroke="#222222" stroke-width="1"/>
<text x="369.8" y="257.17" font-size="7.8" text-anchor="end">0</text>
<line x1="374.1" y1="254.5" x2="469.4" y2="254.5" stroke="#222222" stroke-width="1.1"/>
<line x1="390.5" y1="254.4" x2="390.5" y2="256.8" stroke="#222222" stroke-width="1"/>
<line x1="412.5" y1="254.4" x2="412.5" y2="256.8" stroke="#222222" stroke-width="1"/>
<line x1="434.5" y1="254.4" x2="434.5" y2="256.8" stroke="#222222" stroke-width="1"/>
<line x1="455.5" y1="254.4" x2="455.5" y2="256.8" stroke="#222222" stroke-width="1"/>
<text x="350.5" y="215" font-size="8.4" text-anchor="middle" textLength="44" lengthAdjust="spacingAndGlyphs" transform="rotate(-90 350.5 215)" style="stroke-width:0.28px"><tspan font-weight="bold">APTT</tspan> (seconds)</text>
<line x1="383.8" y1="187.5" x2="403.5" y2="187.5" stroke="#333333" stroke-width="1"/>
<text x="393.65" y="187.43" font-size="7.5" text-anchor="middle" font-weight="bold" style="stroke:#222;stroke-width:0.2px">**</text>
<line x1="406.5" y1="187.5" x2="427.1" y2="187.5" stroke="#333333" stroke-width="1"/>
<text x="416.8" y="187.43" font-size="7.5" text-anchor="middle" font-weight="bold" style="stroke:#222;stroke-width:0.2px">*</text>
<line x1="407.3" y1="178.5" x2="442.5" y2="178.5" stroke="#333333" stroke-width="1"/>
<text x="424.9" y="178.33" font-size="7.5" text-anchor="middle" font-weight="bold" style="stroke:#222;stroke-width:0.2px">**</text>
<path d="M435.4 202.5V198.8H456.5V202.5" stroke="#333333" stroke-width="1" fill="none"/>
<text x="445.95" y="197.36" font-size="7.2" text-anchor="middle">ns</text>
<circle cx="389.7" cy="218.9" r="1.9" fill="#a50d2d"/>
<circle cx="384.2" cy="243.6" r="1.85" fill="#a50d2d"/>
<circle cx="385.8" cy="246.2" r="1.85" fill="#a50d2d"/>
<circle cx="387.6" cy="248" r="1.85" fill="#a50d2d"/>
<circle cx="389.8" cy="248.8" r="1.85" fill="#a50d2d"/>
<circle cx="392" cy="248.4" r="1.85" fill="#a50d2d"/>
<circle cx="394" cy="247.2" r="1.85" fill="#a50d2d"/>
<circle cx="395.8" cy="245.6" r="1.85" fill="#a50d2d"/>
<circle cx="396.6" cy="243.8" r="1.85" fill="#a50d2d"/>
<circle cx="388.2" cy="245.8" r="1.85" fill="#a50d2d"/>
<circle cx="391.5" cy="246.5" r="1.85" fill="#a50d2d"/>
<circle cx="386.5" cy="244.8" r="1.85" fill="#a50d2d"/>
<circle cx="393.8" cy="245" r="1.85" fill="#a50d2d"/>
<line x1="383.3" y1="244.5" x2="396.9" y2="244.5" stroke="#555555" stroke-width="0.8"/>
<line x1="390.5" y1="241.6" x2="390.5" y2="247" stroke="#555555" stroke-width="0.8"/>
<line x1="386.9" y1="241.5" x2="393.3" y2="241.5" stroke="#555555" stroke-width="0.8"/>
<line x1="386.9" y1="247.5" x2="393.3" y2="247.5" stroke="#555555" stroke-width="0.8"/>
<rect x="404.45" y="192.55" width="3.1" height="3.1" fill="#fff" fill-opacity="0" stroke="#c4304e" stroke-width="0.75"/>
<rect x="407.75" y="192.55" width="3.1" height="3.1" fill="#fff" fill-opacity="0" stroke="#c4304e" stroke-width="0.75"/>
<rect x="411.05" y="192.55" width="3.1" height="3.1" fill="#fff" fill-opacity="0" stroke="#c4304e" stroke-width="0.75"/>
<rect x="414.35" y="192.55" width="3.1" height="3.1" fill="#fff" fill-opacity="0" stroke="#c4304e" stroke-width="0.75"/>
<rect x="412.45" y="234.25" width="3.1" height="3.1" fill="#fff" fill-opacity="0" stroke="#c4304e" stroke-width="0.75"/>
<rect x="407.55" y="238.05" width="3.1" height="3.1" fill="#fff" fill-opacity="0" stroke="#c4304e" stroke-width="0.75"/>
<rect x="415.45" y="242.75" width="3.1" height="3.1" fill="#fff" fill-opacity="0" stroke="#c4304e" stroke-width="0.75"/>
<rect x="405.45" y="245.45" width="3.1" height="3.1" fill="#fff" fill-opacity="0" stroke="#c4304e" stroke-width="0.75"/>
<rect x="410.35" y="246.95" width="3.1" height="3.1" fill="#fff" fill-opacity="0" stroke="#c4304e" stroke-width="0.75"/>
<circle cx="411.9" cy="254.4" r="1.54" fill="none" stroke="#c4304e" stroke-width="0.7"/>
<line x1="404.6" y1="216.5" x2="419.2" y2="216.5" stroke="#4a4a4a" stroke-width="0.8"/>
<line x1="411.5" y1="209.6" x2="411.5" y2="223.4" stroke="#4a4a4a" stroke-width="0.8"/>
<line x1="408.7" y1="209.5" x2="415.1" y2="209.5" stroke="#4a4a4a" stroke-width="0.8"/>
<line x1="408.7" y1="223.5" x2="415.1" y2="223.5" stroke="#4a4a4a" stroke-width="0.8"/>
<path d="M431.82 219.62L435.78 219.62L433.8 223.08Z" fill="#a50d2d"/>
<path d="M427.22 231.92L431.18 231.92L429.2 235.38Z" fill="#a50d2d"/>
<path d="M436.12 231.92L440.08 231.92L438.1 235.38Z" fill="#a50d2d"/>
<path d="M431.52 235.42L435.48 235.42L433.5 238.88Z" fill="#a50d2d"/>
<path d="M425.22 242.22L429.18 242.22L427.2 245.68Z" fill="#a50d2d"/>
<path d="M431.52 242.92L435.48 242.92L433.5 246.38Z" fill="#a50d2d"/>
<path d="M438.02 242.22L441.98 242.22L440 245.68Z" fill="#a50d2d"/>
<path d="M427.52 245.92L431.48 245.92L429.5 249.38Z" fill="#a50d2d"/>
<path d="M435.52 245.92L439.48 245.92L437.5 249.38Z" fill="#a50d2d"/>
<path d="M431.52 252.62L435.48 252.62L433.5 256.08Z" fill="#a50d2d"/>
<line x1="426.7" y1="241.5" x2="440.9" y2="241.5" stroke="#555555" stroke-width="0.8"/>
<line x1="433.5" y1="237.9" x2="433.5" y2="244.6" stroke="#555555" stroke-width="0.8"/>
<line x1="430.4" y1="237.5" x2="437.2" y2="237.5" stroke="#555555" stroke-width="0.8"/>
<line x1="430.4" y1="244.5" x2="437.2" y2="244.5" stroke="#555555" stroke-width="0.8"/>
<circle cx="455.7" cy="242.2" r="1.85" fill="#a50d2d"/>
<circle cx="450.4" cy="247.7" r="1.85" fill="#a50d2d"/>
<circle cx="461" cy="246.4" r="1.85" fill="#a50d2d"/>
<circle cx="455.7" cy="249.1" r="1.85" fill="#a50d2d"/>
<circle cx="453.4" cy="254.2" r="1.85" fill="#a50d2d"/>
<circle cx="458.6" cy="254.2" r="1.85" fill="#a50d2d"/>
<line x1="449" y1="248.5" x2="462.6" y2="248.5" stroke="#555555" stroke-width="0.8"/>
<line x1="455.5" y1="246.5" x2="455.5" y2="249.6" stroke="#555555" stroke-width="0.8"/>
<line x1="452.6" y1="246.5" x2="459" y2="246.5" stroke="#555555" stroke-width="0.8"/>
<line x1="452.6" y1="249.5" x2="459" y2="249.5" stroke="#555555" stroke-width="0.8"/>
<text x="390.1" y="267.5" font-size="7.6" text-anchor="middle" textLength="24.2" lengthAdjust="spacingAndGlyphs">Control</text>
<text x="390.1" y="276" font-size="7.6" text-anchor="middle">siRNA</text>
<text x="412.3" y="267.5" font-size="7.6" text-anchor="middle">-</text>
<text x="434.5" y="267.5" font-size="7.6" text-anchor="middle">+AT-</text>
<text x="434.5" y="276" font-size="7.6" text-anchor="middle">WT</text>
<text x="456.3" y="267.5" font-size="7.6" text-anchor="middle">+AT-</text>
<text x="456.3" y="276" font-size="7.6" text-anchor="middle">4Mut</text>
<line x1="402.8" y1="281.5" x2="468.4" y2="281.5" stroke="#333333" stroke-width="1"/>
<text x="435.8" y="290.33" font-size="7.4" text-anchor="middle" textLength="31.1" lengthAdjust="spacingAndGlyphs">AT siRNA</text>
<text x="6.4" y="328.19" font-size="10.6" font-weight="bold" fill="#000" style="stroke:none">H</text>
<line x1="37.5" y1="357" x2="37.5" y2="432.1" stroke="#222222" stroke-width="1.1"/>
<line x1="35.3" y1="358.5" x2="37.9" y2="358.5" stroke="#222222" stroke-width="1"/>
<text x="33.1" y="361.33" font-size="7.8" text-anchor="end">800</text>
<line x1="35.3" y1="376.5" x2="37.9" y2="376.5" stroke="#222222" stroke-width="1"/>
<text x="33.1" y="379.59" font-size="7.8" text-anchor="end">600</text>
<line x1="35.3" y1="395.5" x2="37.9" y2="395.5" stroke="#222222" stroke-width="1"/>
<text x="33.1" y="397.85" font-size="7.8" text-anchor="end">400</text>
<line x1="35.3" y1="413.5" x2="37.9" y2="413.5" stroke="#222222" stroke-width="1"/>
<text x="33.1" y="416.11" font-size="7.8" text-anchor="end">200</text>
<line x1="35.3" y1="431.5" x2="37.9" y2="431.5" stroke="#222222" stroke-width="1"/>
<text x="33.1" y="434.37" font-size="7.8" text-anchor="end">0</text>
<line x1="37.4" y1="431.5" x2="125.4" y2="431.5" stroke="#222222" stroke-width="1.1"/>
<line x1="51.5" y1="431.6" x2="51.5" y2="434" stroke="#222222" stroke-width="1"/>
<line x1="71.5" y1="431.6" x2="71.5" y2="434" stroke="#222222" stroke-width="1"/>
<line x1="92.5" y1="431.6" x2="92.5" y2="434" stroke="#222222" stroke-width="1"/>
<line x1="111.5" y1="431.6" x2="111.5" y2="434" stroke="#222222" stroke-width="1"/>
<text x="13.3" y="395.65" font-size="8.4" text-anchor="middle" textLength="86.1" lengthAdjust="spacingAndGlyphs" transform="rotate(-90 13.3 395.65)" style="stroke-width:0.28px">Plasma clotting time (seconds)</text>
<line x1="48" y1="369.5" x2="68.7" y2="369.5" stroke="#333333" stroke-width="1"/>
<text x="58.35" y="368.12" font-size="7.5" text-anchor="middle" font-weight="bold" style="stroke:#222;stroke-width:0.2px">*</text>
<line x1="72.5" y1="369.5" x2="92.3" y2="369.5" stroke="#333333" stroke-width="1"/>
<text x="82.4" y="368.12" font-size="7.5" text-anchor="middle" font-weight="bold" style="stroke:#222;stroke-width:0.2px">*</text>
<line x1="73.5" y1="358.5" x2="107.1" y2="358.5" stroke="#333333" stroke-width="1"/>
<text x="90.3" y="357.53" font-size="7.5" text-anchor="middle" font-weight="bold" style="stroke:#222;stroke-width:0.2px">**</text>
<circle cx="51.7" cy="396.5" r="1.73" fill="#a50d2d"/>
<circle cx="46.6" cy="410.4" r="1.73" fill="#a50d2d"/>
<circle cx="48.8" cy="411" r="1.73" fill="#a50d2d"/>
<circle cx="51.2" cy="411.6" r="1.73" fill="#a50d2d"/>
<circle cx="53.6" cy="411" r="1.73" fill="#a50d2d"/>
<circle cx="56.2" cy="410.4" r="1.73" fill="#a50d2d"/>
<circle cx="49.8" cy="412.2" r="1.73" fill="#a50d2d"/>
<circle cx="52.8" cy="412.2" r="1.73" fill="#a50d2d"/>
<circle cx="46.6" cy="417" r="1.73" fill="#a50d2d"/>
<circle cx="50" cy="420.4" r="1.73" fill="#a50d2d"/>
<circle cx="53.4" cy="418.4" r="1.73" fill="#a50d2d"/>
<circle cx="56.8" cy="416.3" r="1.73" fill="#a50d2d"/>
<circle cx="51.2" cy="421" r="1.73" fill="#a50d2d"/>
<line x1="44.8" y1="411.5" x2="58.4" y2="411.5" stroke="#555555" stroke-width="0.8"/>
<line x1="51.5" y1="410" x2="51.5" y2="413.2" stroke="#555555" stroke-width="0.8"/>
<line x1="48.3" y1="410.5" x2="54.9" y2="410.5" stroke="#555555" stroke-width="0.8"/>
<line x1="48.3" y1="413.5" x2="54.9" y2="413.5" stroke="#555555" stroke-width="0.8"/>
<rect x="64.87" y="375.19" width="3.26" height="3.26" fill="#fff" fill-opacity="0" stroke="#c4304e" stroke-width="0.75"/>
<rect x="67.87" y="375.19" width="3.26" height="3.26" fill="#fff" fill-opacity="0" stroke="#c4304e" stroke-width="0.75"/>
<rect x="70.87" y="375.19" width="3.26" height="3.26" fill="#fff" fill-opacity="0" stroke="#c4304e" stroke-width="0.75"/>
<rect x="73.87" y="375.19" width="3.26" height="3.26" fill="#fff" fill-opacity="0" stroke="#c4304e" stroke-width="0.75"/>
<rect x="67.97" y="394.57" width="3.26" height="3.26" fill="#fff" fill-opacity="0" stroke="#c4304e" stroke-width="0.75"/>
<rect x="72.77" y="398.37" width="3.26" height="3.26" fill="#fff" fill-opacity="0" stroke="#c4304e" stroke-width="0.75"/>
<rect x="72.77" y="423.77" width="3.26" height="3.26" fill="#fff" fill-opacity="0" stroke="#c4304e" stroke-width="0.75"/>
<rect x="67.97" y="428.57" width="3.26" height="3.26" fill="#fff" fill-opacity="0" stroke="#c4304e" stroke-width="0.75"/>
<line x1="64.9" y1="393.5" x2="78.1" y2="393.5" stroke="#4a4a4a" stroke-width="0.8"/>
<line x1="71.5" y1="385.8" x2="71.5" y2="400.2" stroke="#4a4a4a" stroke-width="0.8"/>
<line x1="68.1" y1="385.5" x2="74.9" y2="385.5" stroke="#4a4a4a" stroke-width="0.8"/>
<line x1="68.1" y1="400.5" x2="74.9" y2="400.5" stroke="#4a4a4a" stroke-width="0.8"/>
<path d="M90.09 397.13L93.51 397.13L91.8 400.12Z" fill="#a50d2d"/>
<path d="M90.09 403.63L93.51 403.63L91.8 406.62Z" fill="#a50d2d"/>
<path d="M85.19 414.93L88.61 414.93L86.9 417.92Z" fill="#a50d2d"/>
<path d="M92.59 413.33L96.01 413.33L94.3 416.32Z" fill="#a50d2d"/>
<path d="M87.99 417.93L91.41 417.93L89.7 420.92Z" fill="#a50d2d"/>
<path d="M92.59 422.03L96.01 422.03L94.3 425.02Z" fill="#a50d2d"/>
<path d="M90.09 430.03L93.51 430.03L91.8 433.02Z" fill="#a50d2d"/>
<line x1="86.5" y1="416.5" x2="97.5" y2="416.5" stroke="#555555" stroke-width="0.8"/>
<line x1="92.5" y1="411.9" x2="92.5" y2="420" stroke="#555555" stroke-width="0.8"/>
<line x1="88.8" y1="411.5" x2="95.2" y2="411.5" stroke="#555555" stroke-width="0.8"/>
<line x1="88.8" y1="420.5" x2="95.2" y2="420.5" stroke="#555555" stroke-width="0.8"/>
<path d="M107.5 408.3L109.31 410.1L107.5 411.91L105.69 410.1Z" fill="#a50d2d"/>
<path d="M116.4 408.3L118.21 410.1L116.4 411.91L114.59 410.1Z" fill="#a50d2d"/>
<path d="M111.8 412.59L113.61 414.4L111.8 416.2L109.99 414.4Z" fill="#a50d2d"/>
<path d="M111.8 419.09L113.61 420.9L111.8 422.7L109.99 420.9Z" fill="#a50d2d"/>
<path d="M110 429.59L111.81 431.4L110 433.2L108.19 431.4Z" fill="#a50d2d"/>
<path d="M114 429.59L115.81 431.4L114 433.2L112.19 431.4Z" fill="#a50d2d"/>
<line x1="105.4" y1="419.5" x2="118.4" y2="419.5" stroke="#555555" stroke-width="0.8"/>
<line x1="111.5" y1="415.8" x2="111.5" y2="424.3" stroke="#555555" stroke-width="0.8"/>
<line x1="108.5" y1="415.5" x2="115.3" y2="415.5" stroke="#555555" stroke-width="0.8"/>
<line x1="108.5" y1="424.5" x2="115.3" y2="424.5" stroke="#555555" stroke-width="0.8"/>
<text x="52" y="444.6" font-size="7.6" text-anchor="middle" textLength="24.4" lengthAdjust="spacingAndGlyphs">Control</text>
<text x="51.9" y="453.1" font-size="7.6" text-anchor="middle">siRNA</text>
<text x="71.9" y="444.6" font-size="7.6" text-anchor="middle">-</text>
<text x="92.3" y="444.6" font-size="7.6" text-anchor="middle">+AT-</text>
<text x="92.3" y="453.1" font-size="7.6" text-anchor="middle">WT</text>
<text x="112.9" y="444.6" font-size="7.6" text-anchor="middle">+AT-</text>
<text x="112.9" y="453.1" font-size="7.6" text-anchor="middle">4Mut</text>
<line x1="68.1" y1="458.5" x2="126.3" y2="458.5" stroke="#333333" stroke-width="1"/>
<text x="97.2" y="467.63" font-size="7.4" text-anchor="middle" textLength="31.5" lengthAdjust="spacingAndGlyphs">AT siRNA</text>
<text x="140.3" y="328.19" font-size="10.6" font-weight="bold" fill="#000" style="stroke:none">I</text>
<line x1="178.5" y1="336.5" x2="178.5" y2="432" stroke="#222222" stroke-width="1.1"/>
<line x1="175.6" y1="338.5" x2="178.2" y2="338.5" stroke="#222222" stroke-width="1"/>
<text x="173.4" y="340.77" font-size="7.8" text-anchor="end">200</text>
<line x1="175.6" y1="361.5" x2="178.2" y2="361.5" stroke="#222222" stroke-width="1"/>
<text x="173.4" y="364.14" font-size="7.8" text-anchor="end">150</text>
<line x1="175.6" y1="384.5" x2="178.2" y2="384.5" stroke="#222222" stroke-width="1"/>
<text x="173.4" y="387.52" font-size="7.8" text-anchor="end">100</text>
<line x1="175.6" y1="408.5" x2="178.2" y2="408.5" stroke="#222222" stroke-width="1"/>
<text x="173.4" y="410.89" font-size="7.8" text-anchor="end">50</text>
<line x1="175.6" y1="431.5" x2="178.2" y2="431.5" stroke="#222222" stroke-width="1"/>
<text x="173.4" y="434.27" font-size="7.8" text-anchor="end">0</text>
<line x1="177.7" y1="431.5" x2="307" y2="431.5" stroke="#222222" stroke-width="1.1"/>
<line x1="195.5" y1="431.5" x2="195.5" y2="433.9" stroke="#222222" stroke-width="1"/>
<line x1="218.5" y1="431.5" x2="218.5" y2="433.9" stroke="#222222" stroke-width="1"/>
<line x1="243.5" y1="431.5" x2="243.5" y2="433.9" stroke="#222222" stroke-width="1"/>
<line x1="267.5" y1="431.5" x2="267.5" y2="433.9" stroke="#222222" stroke-width="1"/>
<line x1="291.5" y1="431.5" x2="291.5" y2="433.9" stroke="#222222" stroke-width="1"/>
<text x="154.7" y="384.85" font-size="8.4" text-anchor="middle" textLength="97.1" lengthAdjust="spacingAndGlyphs" transform="rotate(-90 154.7 384.85)" style="stroke-width:0.28px">Plasma fibrinogen (% over control)</text>
<path d="M194.5 338.6V334.4H216.7V338.6" stroke="#333333" stroke-width="1" fill="none"/>
<text x="205.6" y="333.93" font-size="7.5" text-anchor="middle" font-weight="bold" style="stroke:#222;stroke-width:0.2px">*</text>
<path d="M218.4 338.6V334.4H266.4V338.6" stroke="#333333" stroke-width="1" fill="none"/>
<text x="242.4" y="333.93" font-size="7.5" text-anchor="middle" font-weight="bold" style="stroke:#222;stroke-width:0.2px">*</text>
<path d="M268.1 338.6V334.4H290.4V338.6" stroke="#333333" stroke-width="1" fill="none"/>
<text x="279.25" y="333.93" font-size="7.5" text-anchor="middle" font-weight="bold" style="stroke:#222;stroke-width:0.2px">*</text>
<circle cx="194.5" cy="353.4" r="1.57" fill="#a50d2d"/>
<circle cx="195" cy="374.2" r="1.57" fill="#a50d2d"/>
<circle cx="201.5" cy="372.6" r="1.57" fill="#a50d2d"/>
<circle cx="195" cy="380.2" r="1.57" fill="#a50d2d"/>
<circle cx="188.5" cy="391.5" r="1.57" fill="#a50d2d"/>
<circle cx="195" cy="391.7" r="1.57" fill="#a50d2d"/>
<circle cx="195" cy="395" r="1.57" fill="#a50d2d"/>
<circle cx="201.5" cy="389.9" r="1.57" fill="#a50d2d"/>
<circle cx="201.5" cy="393.1" r="1.57" fill="#a50d2d"/>
<circle cx="195" cy="404.6" r="1.57" fill="#a50d2d"/>
<line x1="187" y1="384.5" x2="203" y2="384.5" stroke="#6e6e6e" stroke-width="0.8"/>
<line x1="195.5" y1="380" x2="195.5" y2="389.5" stroke="#6e6e6e" stroke-width="0.8"/>
<line x1="191.4" y1="380.5" x2="198.6" y2="380.5" stroke="#6e6e6e" stroke-width="0.8"/>
<line x1="191.4" y1="389.5" x2="198.6" y2="389.5" stroke="#6e6e6e" stroke-width="0.8"/>
<rect x="216.03" y="375.73" width="2.94" height="2.94" fill="#fff" fill-opacity="0" stroke="#c4304e" stroke-width="0.75"/>
<rect x="216.03" y="378.93" width="2.94" height="2.94" fill="#fff" fill-opacity="0" stroke="#c4304e" stroke-width="0.75"/>
<rect x="219.13" y="378.93" width="2.94" height="2.94" fill="#fff" fill-opacity="0" stroke="#c4304e" stroke-width="0.75"/>
<rect x="217.33" y="385.53" width="2.94" height="2.94" fill="#fff" fill-opacity="0" stroke="#c4304e" stroke-width="0.75"/>
<rect x="215.73" y="401.73" width="2.94" height="2.94" fill="#fff" fill-opacity="0" stroke="#c4304e" stroke-width="0.75"/>
<rect x="218.93" y="401.73" width="2.94" height="2.94" fill="#fff" fill-opacity="0" stroke="#c4304e" stroke-width="0.75"/>
<rect x="217.33" y="404.13" width="2.94" height="2.94" fill="#fff" fill-opacity="0" stroke="#c4304e" stroke-width="0.75"/>
<rect x="217.33" y="414.83" width="2.94" height="2.94" fill="#fff" fill-opacity="0" stroke="#c4304e" stroke-width="0.75"/>
<rect x="210.93" y="419.03" width="2.94" height="2.94" fill="#fff" fill-opacity="0" stroke="#c4304e" stroke-width="0.75"/>
<rect x="214.13" y="419.03" width="2.94" height="2.94" fill="#fff" fill-opacity="0" stroke="#c4304e" stroke-width="0.75"/>
<rect x="217.33" y="419.03" width="2.94" height="2.94" fill="#fff" fill-opacity="0" stroke="#c4304e" stroke-width="0.75"/>
<rect x="220.53" y="419.03" width="2.94" height="2.94" fill="#fff" fill-opacity="0" stroke="#c4304e" stroke-width="0.75"/>
<rect x="223.73" y="419.03" width="2.94" height="2.94" fill="#fff" fill-opacity="0" stroke="#c4304e" stroke-width="0.75"/>
<rect x="214.13" y="421.53" width="2.94" height="2.94" fill="#fff" fill-opacity="0" stroke="#c4304e" stroke-width="0.75"/>
<rect x="220.53" y="421.53" width="2.94" height="2.94" fill="#fff" fill-opacity="0" stroke="#c4304e" stroke-width="0.75"/>
<rect x="217.33" y="425.53" width="2.94" height="2.94" fill="#fff" fill-opacity="0" stroke="#c4304e" stroke-width="0.75"/>
<line x1="211" y1="408.5" x2="227" y2="408.5" stroke="#6e6e6e" stroke-width="0.8"/>
<line x1="219.5" y1="403" x2="219.5" y2="412.5" stroke="#6e6e6e" stroke-width="0.8"/>
<line x1="215.4" y1="403.5" x2="222.6" y2="403.5" stroke="#6e6e6e" stroke-width="0.8"/>
<line x1="215.4" y1="412.5" x2="222.6" y2="412.5" stroke="#6e6e6e" stroke-width="0.8"/>
<path d="M241.67 345.18L244.73 345.18L243.2 347.85Z" fill="#a50d2d"/>
<path d="M241.47 366.78L244.53 366.78L243 369.45Z" fill="#a50d2d"/>
<path d="M241.47 387.98L244.53 387.98L243 390.65Z" fill="#a50d2d"/>
<path d="M241.47 395.38L244.53 395.38L243 398.05Z" fill="#a50d2d"/>
<path d="M241.47 399.38L244.53 399.38L243 402.05Z" fill="#a50d2d"/>
<path d="M238.87 403.38L241.93 403.38L240.4 406.05Z" fill="#a50d2d"/>
<path d="M244.47 404.78L247.53 404.78L246 407.45Z" fill="#a50d2d"/>
<path d="M241.47 408.38L244.53 408.38L243 411.05Z" fill="#a50d2d"/>
<line x1="234.8" y1="389.5" x2="251.2" y2="389.5" stroke="#6e6e6e" stroke-width="0.8"/>
<line x1="243.5" y1="382.5" x2="243.5" y2="397" stroke="#6e6e6e" stroke-width="0.8"/>
<line x1="239.4" y1="382.5" x2="246.6" y2="382.5" stroke="#6e6e6e" stroke-width="0.8"/>
<line x1="239.4" y1="397.5" x2="246.6" y2="397.5" stroke="#6e6e6e" stroke-width="0.8"/>
<path d="M267.3 360.58L268.92 362.2L267.3 363.81L265.69 362.2Z" fill="#a50d2d"/>
<path d="M267.3 375.19L268.92 376.8L267.3 378.42L265.69 376.8Z" fill="#a50d2d"/>
<path d="M269.7 378.49L271.31 380.1L269.7 381.72L268.08 380.1Z" fill="#a50d2d"/>
<path d="M265 379.88L266.62 381.5L265 383.12L263.38 381.5Z" fill="#a50d2d"/>
<path d="M260.6 384.19L262.22 385.8L260.6 387.42L258.99 385.8Z" fill="#a50d2d"/>
<path d="M265 384.19L266.62 385.8L265 387.42L263.38 385.8Z" fill="#a50d2d"/>
<path d="M269.7 384.19L271.31 385.8L269.7 387.42L268.08 385.8Z" fill="#a50d2d"/>
<path d="M274.3 384.19L275.92 385.8L274.3 387.42L272.69 385.8Z" fill="#a50d2d"/>
<path d="M267.3 390.88L268.92 392.5L267.3 394.12L265.69 392.5Z" fill="#a50d2d"/>
<path d="M267.3 415.69L268.92 417.3L267.3 418.92L265.69 417.3Z" fill="#a50d2d"/>
<line x1="259.8" y1="385.5" x2="274.8" y2="385.5" stroke="#6e6e6e" stroke-width="0.8"/>
<line x1="267.5" y1="381.9" x2="267.5" y2="389.4" stroke="#6e6e6e" stroke-width="0.8"/>
<line x1="263.7" y1="381.5" x2="270.9" y2="381.5" stroke="#6e6e6e" stroke-width="0.8"/>
<line x1="263.7" y1="389.5" x2="270.9" y2="389.5" stroke="#6e6e6e" stroke-width="0.8"/>
<circle cx="291.5" cy="396.5" r="1.57" fill="#a50d2d"/>
<circle cx="284.8" cy="399.1" r="1.57" fill="#a50d2d"/>
<circle cx="298.2" cy="398.3" r="1.57" fill="#a50d2d"/>
<circle cx="291.5" cy="402.3" r="1.57" fill="#a50d2d"/>
<circle cx="284.8" cy="409.4" r="1.57" fill="#a50d2d"/>
<circle cx="291.5" cy="406.9" r="1.57" fill="#a50d2d"/>
<circle cx="298.2" cy="406.9" r="1.57" fill="#a50d2d"/>
<line x1="284.3" y1="402.5" x2="298.7" y2="402.5" stroke="#6e6e6e" stroke-width="0.8"/>
<line x1="291.5" y1="401.1" x2="291.5" y2="405.1" stroke="#6e6e6e" stroke-width="0.8"/>
<line x1="288.1" y1="401.5" x2="294.9" y2="401.5" stroke="#6e6e6e" stroke-width="0.8"/>
<line x1="288.1" y1="405.5" x2="294.9" y2="405.5" stroke="#6e6e6e" stroke-width="0.8"/>
<g transform="translate(194 438.5) rotate(-45)">
<text x="0" y="2.63" font-size="7.4" text-anchor="end">Control</text>
<text x="0" y="10.63" font-size="7.4" text-anchor="end">siRNA</text>
</g>
<g transform="translate(217.8 438.5) rotate(-45)">
<text x="0" y="2.63" font-size="7.4" text-anchor="end">-</text>
</g>
<g transform="translate(242 438.5) rotate(-45)">
<text x="0" y="2.63" font-size="7.4" text-anchor="end">+AT</text>
<text x="0" y="10.63" font-size="7.4" text-anchor="end">WT</text>
</g>
<g transform="translate(266 438.5) rotate(-45)">
<text x="0" y="2.63" font-size="7.4" text-anchor="end">+AT-</text>
<text x="0" y="10.63" font-size="7.4" text-anchor="end">4Mut</text>
</g>
<g transform="translate(290.3 438.5) rotate(-45)">
<text x="0" y="2.63" font-size="7.4" text-anchor="end">+AT-</text>
<text x="0" y="10.63" font-size="7.4" text-anchor="end">R425del</text>
</g>
<line x1="212.7" y1="470.5" x2="303.8" y2="470.5" stroke="#333333" stroke-width="1"/>
<text x="257.2" y="479.43" font-size="7.4" text-anchor="middle" textLength="31.1" lengthAdjust="spacingAndGlyphs">AT siRNA</text>
<text x="322" y="328.19" font-size="10.6" font-weight="bold" fill="#000" style="stroke:none">J</text>
<line x1="358.5" y1="339.5" x2="358.5" y2="431.9" stroke="#222222" stroke-width="1.1"/>
<line x1="355.7" y1="341.5" x2="358.3" y2="341.5" stroke="#222222" stroke-width="1"/>
<text x="353.5" y="343.97" font-size="7.8" text-anchor="end">1000</text>
<line x1="355.7" y1="359.5" x2="358.3" y2="359.5" stroke="#222222" stroke-width="1"/>
<text x="353.5" y="362.01" font-size="7.8" text-anchor="end">800</text>
<line x1="355.7" y1="377.5" x2="358.3" y2="377.5" stroke="#222222" stroke-width="1"/>
<text x="353.5" y="380.05" font-size="7.8" text-anchor="end">600</text>
<line x1="355.7" y1="395.5" x2="358.3" y2="395.5" stroke="#222222" stroke-width="1"/>
<text x="353.5" y="398.09" font-size="7.8" text-anchor="end">400</text>
<line x1="355.7" y1="413.5" x2="358.3" y2="413.5" stroke="#222222" stroke-width="1"/>
<text x="353.5" y="416.13" font-size="7.8" text-anchor="end">200</text>
<line x1="355.7" y1="431.5" x2="358.3" y2="431.5" stroke="#222222" stroke-width="1"/>
<text x="353.5" y="434.17" font-size="7.8" text-anchor="end">0</text>
<line x1="357.8" y1="431.5" x2="484.8" y2="431.5" stroke="#222222" stroke-width="1.1"/>
<line x1="374.5" y1="431.4" x2="374.5" y2="433.8" stroke="#222222" stroke-width="1"/>
<line x1="398.5" y1="431.4" x2="398.5" y2="433.8" stroke="#222222" stroke-width="1"/>
<line x1="422.5" y1="431.4" x2="422.5" y2="433.8" stroke="#222222" stroke-width="1"/>
<line x1="445.5" y1="431.4" x2="445.5" y2="433.8" stroke="#222222" stroke-width="1"/>
<line x1="468.5" y1="431.4" x2="468.5" y2="433.8" stroke="#222222" stroke-width="1"/>
<text x="330.4" y="386.6" font-size="8.4" text-anchor="middle" textLength="74.6" lengthAdjust="spacingAndGlyphs" transform="rotate(-90 330.4 386.6)" style="stroke-width:0.28px">Platelet count (X 1000/μl)</text>
<path d="M374.7 351.2V347.8H396.4V351.2" stroke="#333333" stroke-width="1" fill="none"/>
<text x="385.55" y="347.33" font-size="7.5" text-anchor="middle" font-weight="bold" style="stroke:#222;stroke-width:0.2px">****</text>
<path d="M398.6 351.2V347.8H419.7V351.2" stroke="#333333" stroke-width="1" fill="none"/>
<text x="409.15" y="347.33" font-size="7.5" text-anchor="middle" font-weight="bold" style="stroke:#222;stroke-width:0.2px">**</text>
<path d="M398.6 340.8V336.6H444V340.8" stroke="#333333" stroke-width="1" fill="none"/>
<text x="421.3" y="334.86" font-size="7.2" text-anchor="middle">ns</text>
<path d="M398.6 331.5V327.7H466.7V331.5" stroke="#333333" stroke-width="1" fill="none"/>
<text x="432.65" y="325.56" font-size="7.2" text-anchor="middle">ns</text>
<path d="M446.2 367V364.1H467.3V367" stroke="#333333" stroke-width="1" fill="none"/>
<text x="456.75" y="361.96" font-size="7.2" text-anchor="middle">ns</text>
<circle cx="374.6" cy="359.9" r="1.57" fill="#a50d2d"/>
<circle cx="368.3" cy="363.8" r="1.57" fill="#a50d2d"/>
<circle cx="374.6" cy="363.5" r="1.57" fill="#a50d2d"/>
<circle cx="381.1" cy="361" r="1.57" fill="#a50d2d"/>
<circle cx="374.6" cy="367.6" r="1.57" fill="#a50d2d"/>
<circle cx="368.3" cy="372" r="1.57" fill="#a50d2d"/>
<circle cx="374.6" cy="372" r="1.57" fill="#a50d2d"/>
<circle cx="381.1" cy="370" r="1.57" fill="#a50d2d"/>
<circle cx="374.6" cy="375.8" r="1.57" fill="#a50d2d"/>
<circle cx="381.1" cy="381.2" r="1.57" fill="#a50d2d"/>
<circle cx="374.6" cy="383.5" r="1.57" fill="#a50d2d"/>
<circle cx="374.6" cy="391.3" r="1.57" fill="#a50d2d"/>
<line x1="368.8" y1="371.5" x2="380.4" y2="371.5" stroke="#6e6e6e" stroke-width="0.8"/>
<line x1="374.5" y1="368.7" x2="374.5" y2="374.1" stroke="#6e6e6e" stroke-width="0.8"/>
<line x1="371.3" y1="368.5" x2="377.9" y2="368.5" stroke="#6e6e6e" stroke-width="0.8"/>
<line x1="371.3" y1="374.5" x2="377.9" y2="374.5" stroke="#6e6e6e" stroke-width="0.8"/>
<rect x="394.83" y="376.53" width="2.94" height="2.94" fill="#fff" fill-opacity="0" stroke="#c4304e" stroke-width="0.75"/>
<rect x="398.03" y="378.03" width="2.94" height="2.94" fill="#fff" fill-opacity="0" stroke="#c4304e" stroke-width="0.75"/>
<rect x="396.53" y="387.33" width="2.94" height="2.94" fill="#fff" fill-opacity="0" stroke="#c4304e" stroke-width="0.75"/>
<rect x="390.53" y="398.03" width="2.94" height="2.94" fill="#fff" fill-opacity="0" stroke="#c4304e" stroke-width="0.75"/>
<rect x="393.73" y="398.03" width="2.94" height="2.94" fill="#fff" fill-opacity="0" stroke="#c4304e" stroke-width="0.75"/>
<rect x="399.83" y="398.03" width="2.94" height="2.94" fill="#fff" fill-opacity="0" stroke="#c4304e" stroke-width="0.75"/>
<rect x="396.53" y="401.03" width="2.94" height="2.94" fill="#fff" fill-opacity="0" stroke="#c4304e" stroke-width="0.75"/>
<rect x="393.03" y="404.83" width="2.94" height="2.94" fill="#fff" fill-opacity="0" stroke="#c4304e" stroke-width="0.75"/>
<rect x="398.03" y="406.03" width="2.94" height="2.94" fill="#fff" fill-opacity="0" stroke="#c4304e" stroke-width="0.75"/>
<rect x="396.53" y="409.83" width="2.94" height="2.94" fill="#fff" fill-opacity="0" stroke="#c4304e" stroke-width="0.75"/>
<rect x="396.53" y="413.53" width="2.94" height="2.94" fill="#fff" fill-opacity="0" stroke="#c4304e" stroke-width="0.75"/>
<rect x="389.03" y="419.83" width="2.94" height="2.94" fill="#fff" fill-opacity="0" stroke="#c4304e" stroke-width="0.75"/>
<rect x="392.23" y="419.83" width="2.94" height="2.94" fill="#fff" fill-opacity="0" stroke="#c4304e" stroke-width="0.75"/>
<rect x="395.43" y="419.83" width="2.94" height="2.94" fill="#fff" fill-opacity="0" stroke="#c4304e" stroke-width="0.75"/>
<rect x="398.63" y="419.83" width="2.94" height="2.94" fill="#fff" fill-opacity="0" stroke="#c4304e" stroke-width="0.75"/>
<rect x="401.83" y="419.83" width="2.94" height="2.94" fill="#fff" fill-opacity="0" stroke="#c4304e" stroke-width="0.75"/>
<rect x="390.53" y="422.53" width="2.94" height="2.94" fill="#fff" fill-opacity="0" stroke="#c4304e" stroke-width="0.75"/>
<rect x="399.53" y="422.53" width="2.94" height="2.94" fill="#fff" fill-opacity="0" stroke="#c4304e" stroke-width="0.75"/>
<rect x="396.53" y="424.83" width="2.94" height="2.94" fill="#fff" fill-opacity="0" stroke="#c4304e" stroke-width="0.75"/>
<line x1="390" y1="408.5" x2="406.4" y2="408.5" stroke="#6e6e6e" stroke-width="0.8"/>
<line x1="398.5" y1="405" x2="398.5" y2="412" stroke="#6e6e6e" stroke-width="0.8"/>
<line x1="394.7" y1="405.5" x2="401.7" y2="405.5" stroke="#6e6e6e" stroke-width="0.8"/>
<line x1="394.7" y1="412.5" x2="401.7" y2="412.5" stroke="#6e6e6e" stroke-width="0.8"/>
<path d="M417.27 363.28L420.33 363.28L418.8 365.95Z" fill="#a50d2d"/>
<path d="M422.97 365.28L426.03 365.28L424.5 367.95Z" fill="#a50d2d"/>
<path d="M417.27 367.98L420.33 367.98L418.8 370.65Z" fill="#a50d2d"/>
<path d="M417.27 385.28L420.33 385.28L418.8 387.95Z" fill="#a50d2d"/>
<path d="M422.97 387.38L426.03 387.38L424.5 390.05Z" fill="#a50d2d"/>
<path d="M417.27 389.98L420.33 389.98L418.8 392.65Z" fill="#a50d2d"/>
<path d="M419.97 404.58L423.03 404.58L421.5 407.25Z" fill="#a50d2d"/>
<path d="M419.97 409.98L423.03 409.98L421.5 412.65Z" fill="#a50d2d"/>
<line x1="414.7" y1="385.5" x2="429.3" y2="385.5" stroke="#6e6e6e" stroke-width="0.8"/>
<line x1="422.5" y1="379.5" x2="422.5" y2="392" stroke="#6e6e6e" stroke-width="0.8"/>
<line x1="418.6" y1="379.5" x2="425.4" y2="379.5" stroke="#6e6e6e" stroke-width="0.8"/>
<line x1="418.6" y1="392.5" x2="425.4" y2="392.5" stroke="#6e6e6e" stroke-width="0.8"/>
<path d="M445 373.38L446.62 375L445 376.62L443.38 375Z" fill="#a50d2d"/>
<path d="M445 388.49L446.62 390.1L445 391.72L443.38 390.1Z" fill="#a50d2d"/>
<path d="M445 394.19L446.62 395.8L445 397.42L443.38 395.8Z" fill="#a50d2d"/>
<path d="M442 406.49L443.62 408.1L442 409.72L440.38 408.1Z" fill="#a50d2d"/>
<path d="M447.6 406.88L449.22 408.5L447.6 410.12L445.99 408.5Z" fill="#a50d2d"/>
<path d="M445 410.28L446.62 411.9L445 413.51L443.38 411.9Z" fill="#a50d2d"/>
<line x1="437.5" y1="398.5" x2="452.9" y2="398.5" stroke="#6e6e6e" stroke-width="0.8"/>
<line x1="445.5" y1="392.5" x2="445.5" y2="403.8" stroke="#6e6e6e" stroke-width="0.8"/>
<line x1="441.8" y1="392.5" x2="448.6" y2="392.5" stroke="#6e6e6e" stroke-width="0.8"/>
<line x1="441.8" y1="403.5" x2="448.6" y2="403.5" stroke="#6e6e6e" stroke-width="0.8"/>
<circle cx="465" cy="393" r="1.57" fill="#a50d2d"/>
<circle cx="471.3" cy="392" r="1.57" fill="#a50d2d"/>
<circle cx="468.8" cy="409.5" r="1.57" fill="#a50d2d"/>
<circle cx="468.8" cy="422" r="1.57" fill="#a50d2d"/>
<line x1="461.3" y1="404.5" x2="476.3" y2="404.5" stroke="#6e6e6e" stroke-width="0.8"/>
<line x1="468.5" y1="397.5" x2="468.5" y2="411.3" stroke="#6e6e6e" stroke-width="0.8"/>
<line x1="465.4" y1="397.5" x2="472.2" y2="397.5" stroke="#6e6e6e" stroke-width="0.8"/>
<line x1="465.4" y1="411.5" x2="472.2" y2="411.5" stroke="#6e6e6e" stroke-width="0.8"/>
<g transform="translate(373.5 438.4) rotate(-45)">
<text x="0" y="2.63" font-size="7.4" text-anchor="end">Control</text>
<text x="0" y="10.63" font-size="7.4" text-anchor="end">siRNA</text>
</g>
<g transform="translate(397 438.4) rotate(-45)">
<text x="0" y="2.63" font-size="7.4" text-anchor="end">-</text>
</g>
<g transform="translate(421 438.4) rotate(-45)">
<text x="0" y="2.63" font-size="7.4" text-anchor="end">+AT-</text>
<text x="0" y="10.63" font-size="7.4" text-anchor="end">WT</text>
</g>
<g transform="translate(444.2 438.4) rotate(-45)">
<text x="0" y="2.63" font-size="7.4" text-anchor="end">+AT-</text>
<text x="0" y="10.63" font-size="7.4" text-anchor="end">4Mut</text>
</g>
<g transform="translate(467.8 438.4) rotate(-45)">
<text x="0" y="2.63" font-size="7.4" text-anchor="end">+AT-</text>
<text x="0" y="10.63" font-size="7.4" text-anchor="end">R425del</text>
</g>
<line x1="400.7" y1="469.5" x2="483.4" y2="469.5" stroke="#333333" stroke-width="1"/>
<text x="441.6" y="478.83" font-size="7.4" text-anchor="middle" textLength="31.1" lengthAdjust="spacingAndGlyphs">AT siRNA</text>
</svg>
</body></html>
